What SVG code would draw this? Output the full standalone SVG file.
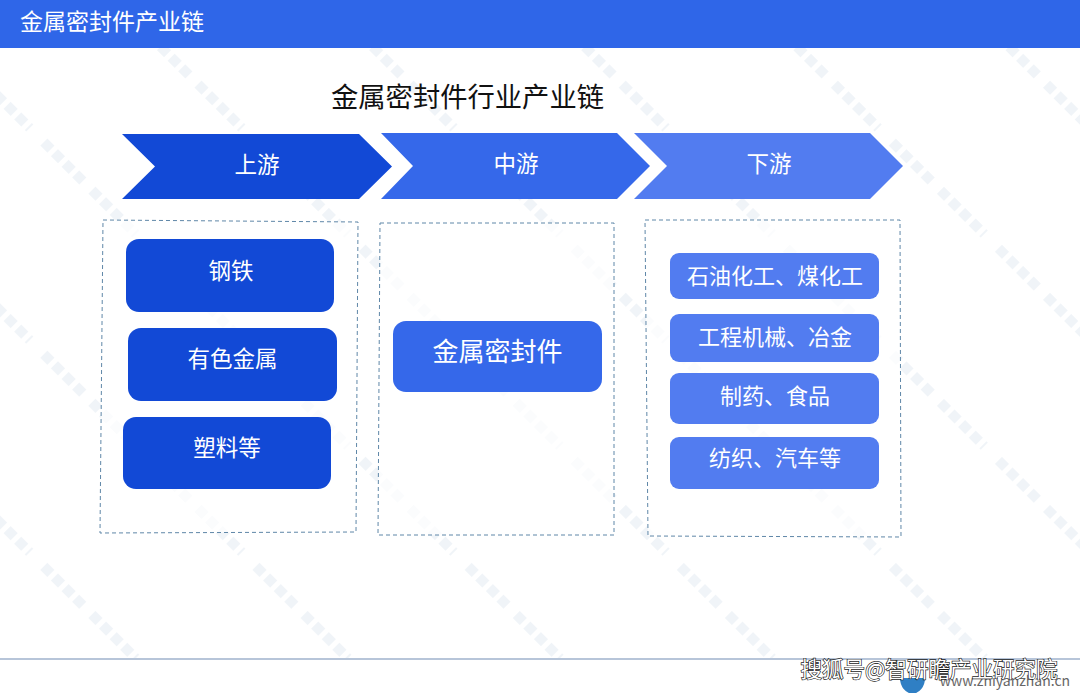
<svg xmlns="http://www.w3.org/2000/svg" width="1080" height="693" viewBox="0 0 1080 693">
<defs>
<pattern id="wm" width="150" height="150" patternUnits="userSpaceOnUse" patternTransform="translate(0 70) rotate(45)">
<line x1="0" y1="20" x2="62" y2="20" stroke="#e4ebf2" stroke-width="10" stroke-dasharray="10 5" opacity=".55"/>
<line x1="82" y1="20" x2="140" y2="20" stroke="#e4ebf2" stroke-width="10" stroke-dasharray="10 5" opacity=".55"/>
</pattern>
</defs>
<style>
text{font-family:"Noto Sans CJK SC","Noto Sans",sans-serif;text-anchor:middle;fill:#fff}
.frame{fill:#fff;fill-opacity:.7;stroke:#5f87a8;stroke-width:1;stroke-dasharray:4 3}
.up{fill:#1249d6}.mid{fill:#3568ea}.down{fill:#527cf0}
.t22{font-size:22.500px}
.t21{font-size:22px}
</style>
<rect width="1080" height="693" fill="#fff"/>
<rect y="48" width="1080" height="610" fill="url(#wm)"/>
<g id="header"><rect width="1080" height="48" fill="#2f66e8"/>
<text x="112" y="30" font-size="23">金属密封件产业链</text></g>
<text id="title" x="467.500" y="107" font-size="27.300" style="fill:#111">金属密封件行业产业链</text>
<g id="stage-up"><polygon class="up" points="122,134 359,134 392,166.500 359,199 122,199 155,166.500"/><text class="t22" x="257" y="173">上游</text></g>
<g id="stage-mid"><polygon class="mid" points="381,133 617,133 650,166 617,199 381,199 413,166"/><text class="t22" x="516" y="172">中游</text></g>
<g id="stage-down"><polygon class="down" points="634,133 870,133 903,166 870,199 634,199 667,166"/><text class="t22" x="769" y="172">下游</text></g>
<g id="group-up"><polygon class="frame" points="103,220 358,222 356,532 100,533"/></g>
<g id="group-mid"><polygon class="frame" points="380,223 614,223 614,535 378,535"/></g>
<g id="group-down"><polygon class="frame" points="645,220 900,220 901,537 648,536"/></g>
<g id="n-steel"><rect class="up" x="126" y="239" width="208" height="73" rx="13"/><text class="t22" x="231" y="279">钢铁</text></g>
<g id="n-metal"><rect class="up" x="128" y="328" width="209" height="73" rx="13"/><text class="t22" x="232.500" y="367">有色金属</text></g>
<g id="n-plastic"><rect class="up" x="123" y="417" width="208" height="72" rx="13"/><text class="t22" x="227" y="456">塑料等</text></g>
<g id="n-seal"><rect class="mid" x="393" y="321" width="209" height="71" rx="13"/><text x="497.500" y="361" font-size="26">金属密封件</text></g>
<g id="n-petro"><rect class="down" x="670" y="253" width="209" height="46" rx="9"/><text class="t21" x="775" y="284">石油化工、煤化工</text></g>
<g id="n-eng"><rect class="down" x="670" y="314" width="209" height="48" rx="9"/><text class="t21" x="775" y="345">工程机械、冶金</text></g>
<g id="n-pharma"><rect class="down" x="670" y="373" width="209" height="51" rx="9"/><text class="t21" x="775" y="404">制药、食品</text></g>
<g id="n-textile"><rect class="down" x="670" y="437" width="209" height="52" rx="9"/><text class="t21" x="775" y="466">纺织、汽车等</text></g>
<g id="footer">
<line x1="0" y1="659" x2="1080" y2="659" stroke="#9fb2cc" stroke-width="1.500"/>
<path d="M900 678a12 15 0 0 0 25 0z" fill="#2f7fc4"/>
<text x="1005" y="686" font-size="14" style="fill:#666">www.zhiyanzhan.cn</text>
<text x="929" y="677" font-size="21.500" style="fill:#fff;stroke:#1a1a1a;stroke-width:1.300;paint-order:stroke">搜狐号@智研瞻产业研究院</text>
</g>
</svg>
